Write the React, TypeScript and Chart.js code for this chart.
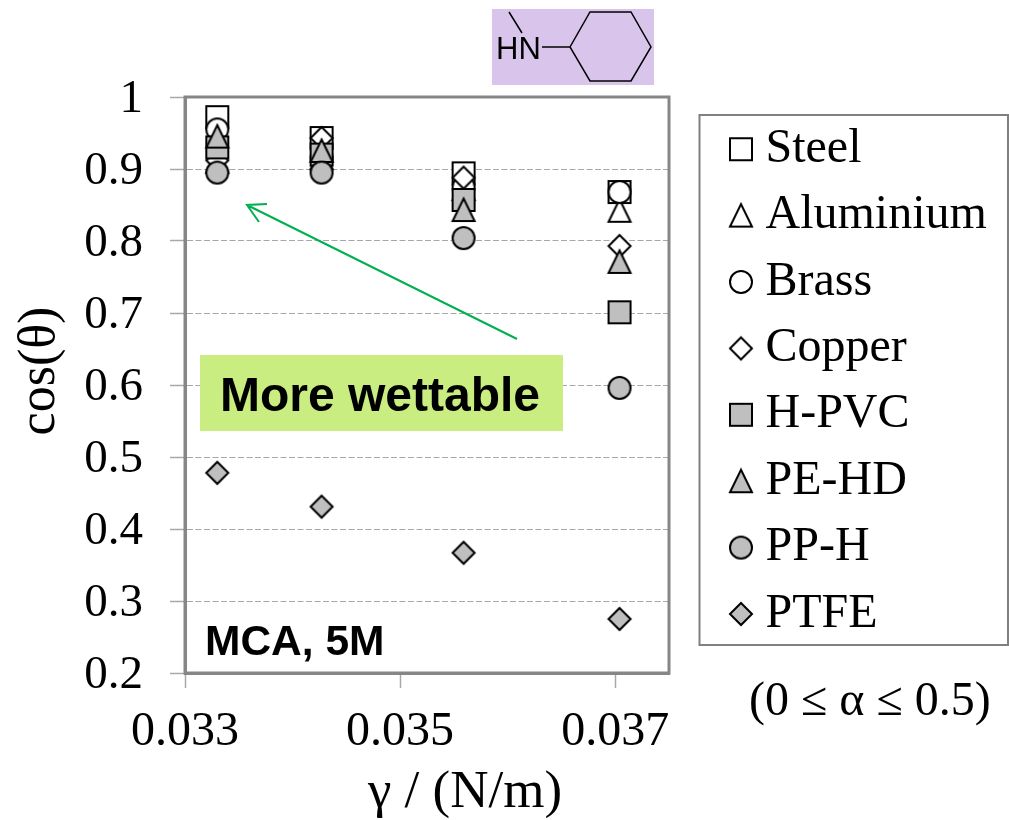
import React, { useEffect, useRef } from "react";
import { Chart, registerables } from "chart.js";

Chart.register(...registerables);

const surfaceTension = [0.0333, 0.03427, 0.03559, 0.03704];
const steel = [0.972, 0.943, 0.894, 0.868];
const aluminium = [0.91, 0.915, 0.872, 0.842];
const brass = [0.955, 0.915, 0.875, 0.868];
const copper = [0.912, 0.943, 0.888, 0.793];
const hPvc = [0.93, 0.92, 0.857, 0.701];
const peHd = [0.945, 0.925, 0.843, 0.771];
const ppH = [0.895, 0.895, 0.804, 0.596];
const ptfe = [0.478, 0.431, 0.367, 0.275];
const xTicks = [0.033, 0.035, 0.037];
const yTicks = [0.2, 0.3, 0.4, 0.5, 0.6, 0.7, 0.8, 0.9, 1];

const OPEN = "#ffffff";
const GREY = "#bfbfbf";
const SERIF = "'Liberation Serif'";
const SANS = "'Liberation Sans'";

function marker(shape: string, fill: string) {
  const c = document.createElement("canvas");
  c.width = 28;
  c.height = 28;
  const g = c.getContext("2d")!;
  const m = 14;
  const r = 11;
  g.beginPath();
  if (shape === "square") g.rect(m - r, m - r, 2 * r, 2 * r);
  if (shape === "circle") g.arc(m, m, r, 0, Math.PI * 2);
  if (shape === "triangle") {
    g.moveTo(m, m - r - 0.5);
    g.lineTo(m + r, m + r);
    g.lineTo(m - r, m + r);
    g.closePath();
  }
  if (shape === "diamond") {
    g.moveTo(m, m - r);
    g.lineTo(m + r, m);
    g.lineTo(m, m + r);
    g.lineTo(m - r, m);
    g.closePath();
  }
  g.fillStyle = fill;
  g.fill();
  g.lineWidth = 2;
  g.lineJoin = "miter";
  g.strokeStyle = "#000000";
  g.stroke();
  return c;
}

const shiftDraw = (scale: any, dx: number, dy: number) => {
  if (scale.__shifted) return;
  scale.__shifted = true;
  const orig = scale.drawTitle;
  scale.drawTitle = function () {
    this.ctx.save();
    this.ctx.translate(dx, dy);
    orig.call(this);
    this.ctx.restore();
  };
};

const decorations = {
  id: "decorations",
  afterUpdate(chart: any) {
    const l = chart.legend;
    l.left = 722.1;
    l.right = 1009;
    l.top = 106.8;
    l.bottom = 680;
    l.adjustHitBoxes();
    shiftDraw(chart.scales.x, 38, 0);
    shiftDraw(chart.scales.y, 0, -14);
  },
  beforeDatasetsDraw(chart: any) {
    const { ctx, chartArea: a } = chart;
    ctx.save();
    ctx.strokeStyle = "#868686";
    ctx.lineWidth = 3;
    ctx.strokeRect(a.left, a.top, a.right - a.left, a.bottom - a.top);
    ctx.restore();
  },
  afterDraw(chart: any) {
    const { ctx } = chart;
    ctx.save();

    // legend frame
    ctx.strokeStyle = "#808080";
    ctx.lineWidth = 2;
    ctx.strokeRect(699.5, 115, 308.5, 530);

    // note under legend
    ctx.fillStyle = "#000000";
    ctx.textBaseline = "middle";
    ctx.textAlign = "left";
    ctx.font = `48px ${SERIF}`;
    ctx.fillText("(0 ≤ α ≤ 0.5)", 749, 702);

    // arrow
    ctx.strokeStyle = "#00b050";
    ctx.lineWidth = 2;
    ctx.beginPath();
    ctx.moveTo(517, 339);
    ctx.lineTo(247, 205);
    ctx.moveTo(267, 204);
    ctx.lineTo(247, 205);
    ctx.lineTo(259, 222);
    ctx.stroke();

    // callout
    ctx.fillStyle = "#c9ed80";
    ctx.fillRect(200, 355, 363, 76);
    ctx.fillStyle = "#000000";
    ctx.font = `bold 48px ${SANS}`;
    ctx.fillText("More wettable", 220, 398);
    ctx.font = `bold 42.5px ${SANS}`;
    ctx.fillText("MCA, 5M", 205, 643);

    // molecule
    ctx.fillStyle = "#d9c5ec";
    ctx.fillRect(492, 9, 162, 76);
    ctx.strokeStyle = "#000000";
    ctx.lineWidth = 1.5;
    ctx.beginPath();
    ctx.moveTo(570, 47);
    ctx.lineTo(590, 12);
    ctx.lineTo(631, 12);
    ctx.lineTo(651, 47);
    ctx.lineTo(631, 81);
    ctx.lineTo(590, 81);
    ctx.closePath();
    ctx.moveTo(542, 47);
    ctx.lineTo(570, 47);
    ctx.moveTo(509, 12);
    ctx.lineTo(522, 33);
    ctx.stroke();
    ctx.fillStyle = "#000000";
    ctx.font = `31px ${SANS}`;
    ctx.fillText("HN", 496, 50);
    ctx.restore();
  },
};

const makeSeries = (label: string, values: number[], shape: string, fill: string, order: number) => ({
  label,
  data: values.map((y, i) => ({ x: surfaceTension[i], y })),
  pointStyle: marker(shape, fill),
  pointRadius: 11,
  showLine: false,
  order,
});

export default function App() {
  const ref = useRef<HTMLCanvasElement>(null);

  useEffect(() => {
    document.body.style.margin = "0";
    const chart = new Chart(ref.current!, {
      type: "scatter",
      data: {
        datasets: [
          makeSeries("Steel", steel, "square", OPEN, 8),
          makeSeries("Aluminium", aluminium, "triangle", OPEN, 7),
          makeSeries("Brass", brass, "circle", OPEN, 6),
          makeSeries("Copper", copper, "diamond", OPEN, 5),
          makeSeries("H-PVC", hPvc, "square", GREY, 4),
          makeSeries("PE-HD", peHd, "triangle", GREY, 3),
          makeSeries("PP-H", ppH, "circle", GREY, 2),
          makeSeries("PTFE", ptfe, "diamond", GREY, 1),
        ],
      },
      options: {
        responsive: false,
        animation: false,
        layout: { padding: { top: 97, left: 0, right: 340, bottom: 0 } },
        plugins: {
          title: { display: false },
          tooltip: { enabled: false },
          legend: {
            position: "chartArea",
            align: "start",
            labels: {
              usePointStyle: true,
              boxWidth: 1,
              padding: 18.4,
              color: "#000000",
              font: { family: SERIF, size: 48, lineHeight: 1 },
              sort: (a: any, b: any) => a.datasetIndex - b.datasetIndex,
            },
          },
        },
        scales: {
          x: {
            type: "linear",
            min: 0.033,
            max: 0.0375,
            afterFit: (s: any) => {
              s.height = 147;
            },
            afterBuildTicks: (s: any) => {
              s.ticks = xTicks.map((value) => ({ value }));
            },
            title: {
              display: true,
              text: "γ / (N/m)",
              color: "#000000",
              font: { family: SERIF, size: 53, lineHeight: 1 },
              padding: 0,
            },
            ticks: {
              color: "#000000",
              font: { family: SERIF, size: 48, lineHeight: 1 },
              padding: 20,
              autoSkip: false,
              maxRotation: 0,
              callback: (v: any) => Number(v).toFixed(3),
            },
            grid: { drawOnChartArea: false, tickLength: 15, tickColor: "#a8a8a8", tickWidth: 1.5 },
            border: { color: "#868686", width: 3 },
          },
          y: {
            type: "linear",
            min: 0.2,
            max: 1,
            afterFit: (s: any) => {
              s.width = 185;
            },
            afterBuildTicks: (s: any) => {
              s.ticks = yTicks.map((value) => ({ value }));
            },
            title: {
              display: true,
              text: "cos(θ)",
              color: "#000000",
              font: { family: SERIF, size: 52, lineHeight: 1 },
              padding: { top: 14, bottom: 0 },
            },
            ticks: {
              color: "#000000",
              font: { family: SERIF, size: 47, lineHeight: 1 },
              padding: 27,
              labelOffset: 3,
              autoSkip: false,
              callback: (v: any) => String(Number(Number(v).toFixed(1))),
            },
            grid: { color: "#a8a8a8", tickLength: 15, tickColor: "#a8a8a8", tickWidth: 1.5, tickBorderDash: [] },
            border: { color: "#868686", width: 3, dash: [6, 2.5] },
          },
        },
      } as any,
      plugins: [decorations as any],
    });
    return () => chart.destroy();
  }, []);

  return (
    <div style={{ position: "absolute", left: 0, top: 0, width: 1009, height: 820 }}>
      <canvas ref={ref} width={1009} height={820} style={{ display: "block" }} />
    </div>
  );
}
